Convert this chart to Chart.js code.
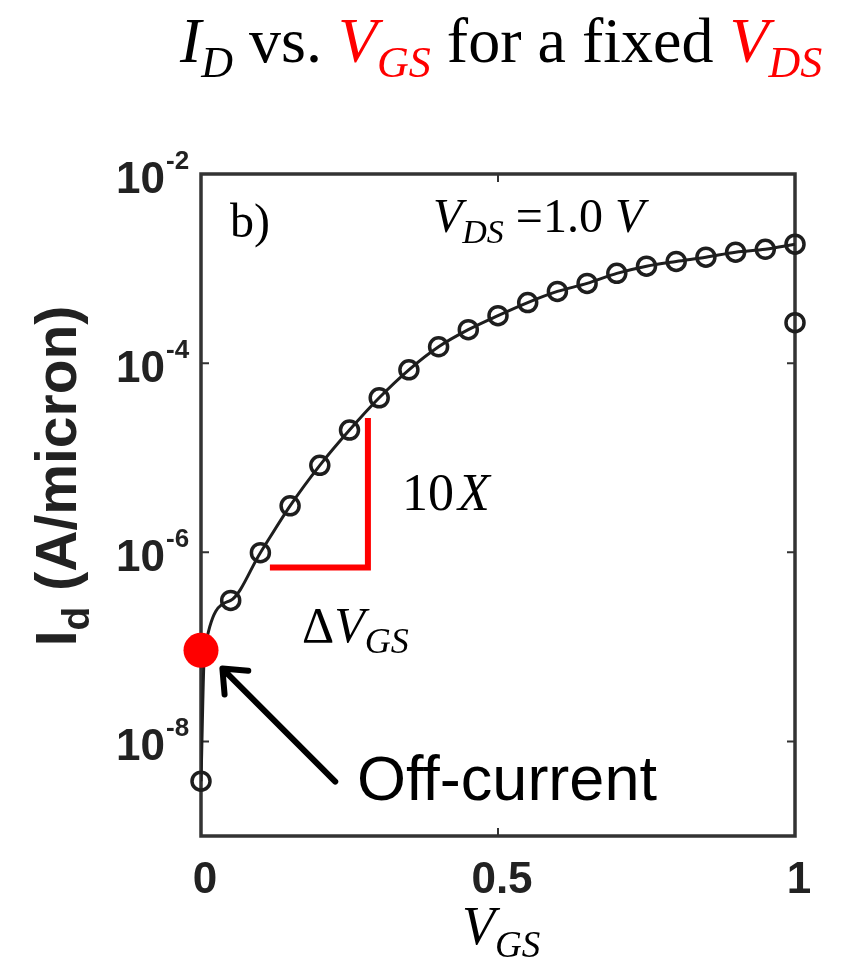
<!DOCTYPE html>
<html>
<head>
<meta charset="utf-8">
<script src="https://cdn.jsdelivr.net/npm/chart.js@4.4.1/dist/chart.umd.min.js"></script>
<style>
  html, body { margin: 0; padding: 0; background: #fff; }
  #wrap { width: 841px; height: 967px; }
</style>
</head>
<body>
<div id="wrap"><canvas id="chart" width="841" height="967"></canvas></div>
<script>
// measured points (circles): gate voltage (V) and drain current (A/micron)
const vgs = [0, 0.05, 0.1, 0.15, 0.2, 0.25, 0.3, 0.35, 0.4, 0.45, 0.5,
             0.55, 0.6, 0.65, 0.7, 0.75, 0.8, 0.85, 0.9, 0.95, 1.0];
const idMeasured = [3.8e-9, 3.1e-7, 9.9e-7, 3.1e-6, 8.3e-6, 1.96e-5, 4.3e-5, 8.5e-5, 1.49e-4, 2.26e-4, 3.18e-4,
                    4.37e-4, 5.73e-4, 6.97e-4, 8.9e-4, 1.06e-3, 1.19e-3, 1.32e-3, 1.49e-3, 1.6e-3, 1.81e-3];

// model curve (solid line)
const vgsModel = [0, 0.006, 0.05, 0.1, 0.15, 0.2, 0.25, 0.3, 0.35, 0.4, 0.45, 0.5,
                  0.55, 0.6, 0.65, 0.7, 0.75, 0.8, 0.85, 0.9, 0.95, 1.0];
const idModel = [3.8e-9, 9.2e-8, 3.1e-7, 9.9e-7, 3.1e-6, 8.3e-6, 1.96e-5, 4.3e-5, 8.5e-5, 1.49e-4, 2.26e-4, 3.18e-4,
                 4.37e-4, 5.73e-4, 6.97e-4, 8.9e-4, 1.06e-3, 1.19e-3, 1.32e-3, 1.49e-3, 1.6e-3, 1.81e-3];

// leftover point of the second (cropped) curve
const vgsOther = [1.0];
const idOther = [2.68e-4];

// off-current marker
const vgsOff = [0];
const idOff = [9.2e-8];

// red slope bracket (data units)
const slopeX = [0.116, 0.281, 0.281];
const slopeY = [6.9e-7, 6.9e-7, 2.63e-5];

// arrow pointing at the off-current
const arrowX = [0.226, 0.036];
const arrowY = [3.76e-9, 5.9e-8];

// axis ticks
const yTicks = [1e-8, 1e-6, 1e-4, 1e-2];
const yTickExp = ["-8", "-6", "-4", "-2"];
const xTicks = [0, 0.5, 1];
const xTickLabels = ["0", "0.5", "1"];

const SERIF = '"Liberation Serif", "Times New Roman", serif';
const SANS = '"Liberation Sans", Arial, sans-serif';
const INK = "#1e1e1e";

function pts(xs, ys) {
    return xs.map((x, i) => ({ x: x, y: ys[i] }));
}

// draw a run of text pieces one after the other
function drawRich(ctx, x, y, parts) {
    let cx = x;
    parts.forEach(p => {
        ctx.font = p.font;
        ctx.fillStyle = p.color || "#000";
        ctx.fillText(p.text, cx, y + (p.dy || 0));
        cx += ctx.measureText(p.text).width + (p.gap || 0);
    });
    return cx;
}

function richWidth(ctx, parts) {
    let w = 0;
    parts.forEach(p => {
        ctx.font = p.font;
        w += ctx.measureText(p.text).width + (p.gap || 0);
    });
    return w;
}

const decor = {
    id: "decor",
    beforeDatasetsDraw(chart) {
        const ctx = chart.ctx;
        const a = chart.chartArea;
        const xs = chart.scales.x, ys = chart.scales.y;
        ctx.save();
        ctx.strokeStyle = "#333";
        ctx.lineWidth = 3.5;
        ctx.strokeRect(a.left, a.top, a.right - a.left, a.bottom - a.top);
        // inward ticks
        ctx.lineWidth = 2;
        ctx.beginPath();
        yTicks.forEach(v => {
            const py = ys.getPixelForValue(v);
            ctx.moveTo(a.left, py); ctx.lineTo(a.left + 8, py);
            ctx.moveTo(a.right, py); ctx.lineTo(a.right - 8, py);
        });
        xTicks.forEach(v => {
            const px = xs.getPixelForValue(v);
            ctx.moveTo(px, a.top); ctx.lineTo(px, a.top + 8);
            ctx.moveTo(px, a.bottom); ctx.lineTo(px, a.bottom - 8);
        });
        ctx.stroke();
        ctx.restore();
    },
    afterDatasetsDraw(chart) {
        const ctx = chart.ctx;
        const xs = chart.scales.x, ys = chart.scales.y;
        ctx.save();
        ctx.textBaseline = "alphabetic";

        // y tick labels: 10 with superscript exponent
        yTicks.forEach((v, i) => {
            const py = ys.getPixelForValue(v);
            ctx.font = "bold 44px " + SANS;
            ctx.fillStyle = "#222";
            ctx.textAlign = "right";
            ctx.fillText("10", 165, py + 19);
            ctx.textAlign = "left";
            ctx.font = "bold 26px " + SANS;
            ctx.fillText(yTickExp[i], 166, py - 5);
        });

        // x tick labels
        ctx.textAlign = "center";
        ctx.font = "bold 44px " + SANS;
        xTicks.forEach((v, i) => {
            ctx.fillText(xTickLabels[i], xs.getPixelForValue(v) + 4, 893);
        });

        // y axis title (rotated)
        ctx.save();
        ctx.translate(76, 476);
        ctx.rotate(-Math.PI / 2);
        ctx.textAlign = "left";
        const yTitle = [
            { text: "I", font: "bold 57px " + SANS, color: "#222" },
            { text: "d", font: "bold 39px " + SANS, color: "#222", dy: 13 },
            { text: " (A/micron)", font: "bold 57px " + SANS, color: "#222" }
        ];
        drawRich(ctx, -richWidth(ctx, yTitle) / 2, 0, yTitle);
        ctx.restore();

        // x axis title
        ctx.textAlign = "left";
        drawRich(ctx, 462, 944, [
            { text: "V", font: "italic 54px " + SERIF },
            { text: "GS", font: "italic 37px " + SERIF, dy: 13 }
        ]);

        // title
        const red = "#ff0000";
        drawRich(ctx, 180, 62, [
            { text: "I", font: "italic 64px " + SERIF },
            { text: "D", font: "italic 44px " + SERIF, dy: 15 },
            { text: " vs. ", font: "64px " + SERIF },
            { text: "V", font: "italic 64px " + SERIF, color: red },
            { text: "GS", font: "italic 44px " + SERIF, color: red, dy: 15 },
            { text: " for a fixed ", font: "64px " + SERIF },
            { text: "V", font: "italic 64px " + SERIF, color: red },
            { text: "DS", font: "italic 44px " + SERIF, color: red, dy: 15 }
        ]);

        // panel tag and bias
        drawRich(ctx, 230, 237, [{ text: "b)", font: "48px " + SERIF }]);
        drawRich(ctx, 433, 232, [
            { text: "V", font: "italic 48px " + SERIF },
            { text: "DS", font: "italic 34px " + SERIF, dy: 11 },
            { text: " =1.0 ", font: "48px " + SERIF },
            { text: "V", font: "italic 48px " + SERIF }
        ]);

        // slope labels
        drawRich(ctx, 402, 510, [
            { text: "10", font: "52px " + SERIF, gap: 4 },
            { text: "X", font: "italic 52px " + SERIF }
        ]);
        drawRich(ctx, 302, 642, [
            { text: "\u0394", font: "50px " + SERIF },
            { text: "V", font: "italic 50px " + SERIF },
            { text: "GS", font: "italic 36px " + SERIF, dy: 11 }
        ]);

        // arrow
        const x0 = xs.getPixelForValue(arrowX[0]), y0 = ys.getPixelForValue(arrowY[0]);
        const x1 = xs.getPixelForValue(arrowX[1]), y1 = ys.getPixelForValue(arrowY[1]);
        const ang = Math.atan2(y0 - y1, x0 - x1);
        ctx.strokeStyle = "#000";
        ctx.lineWidth = 6;
        ctx.lineCap = "round";
        ctx.lineJoin = "round";
        ctx.beginPath();
        ctx.moveTo(x0, y0);
        ctx.lineTo(x1 + 2, y1 + 2);
        ctx.moveTo(x1 + 26 * Math.cos(ang - 0.7), y1 + 26 * Math.sin(ang - 0.7));
        ctx.lineTo(x1, y1);
        ctx.lineTo(x1 + 26 * Math.cos(ang + 0.7), y1 + 26 * Math.sin(ang + 0.7));
        ctx.stroke();

        ctx.font = "63px " + SANS;
        ctx.fillStyle = "#000";
        ctx.fillText("Off-current", 357, 800);
        ctx.restore();
    }
};

new Chart(document.getElementById("chart"), {
    type: "scatter",
    data: {
        datasets: [
            {
                label: "off-current",
                data: pts(vgsOff, idOff),
                order: 0,
                pointRadius: 17.5,
                pointBackgroundColor: "#ff0000",
                pointBorderWidth: 0,
                clip: false
            },
            {
                label: "slope",
                data: pts(slopeX, slopeY),
                order: 1,
                showLine: true,
                borderColor: "#ff0000",
                borderWidth: 6,
                borderJoinStyle: "miter",
                pointRadius: 0
            },
            {
                label: "measured",
                data: pts(vgs, idMeasured),
                order: 2,
                pointRadius: 9,
                pointBorderWidth: 3.5,
                pointBorderColor: INK,
                pointBackgroundColor: "rgba(0,0,0,0)",
                clip: false
            },
            {
                label: "other",
                data: pts(vgsOther, idOther),
                order: 3,
                pointRadius: 9,
                pointBorderWidth: 3.5,
                pointBorderColor: INK,
                pointBackgroundColor: "rgba(0,0,0,0)",
                clip: false
            },
            {
                label: "model",
                data: pts(vgsModel, idModel),
                order: 4,
                showLine: true,
                borderColor: INK,
                borderWidth: 3,
                cubicInterpolationMode: "monotone",
                pointRadius: 0
            }
        ]
    },
    options: {
        responsive: false,
        animation: false,
        layout: { padding: { left: 201, right: 46, top: 174, bottom: 131 } },
        plugins: {
            legend: { display: false },
            tooltip: { enabled: false }
        },
        scales: {
            x: { type: "linear", min: 0, max: 1, display: false },
            y: { type: "logarithmic", min: 1e-9, max: 1e-2, display: false }
        }
    },
    plugins: [decor]
});
</script>
</body>
</html>
